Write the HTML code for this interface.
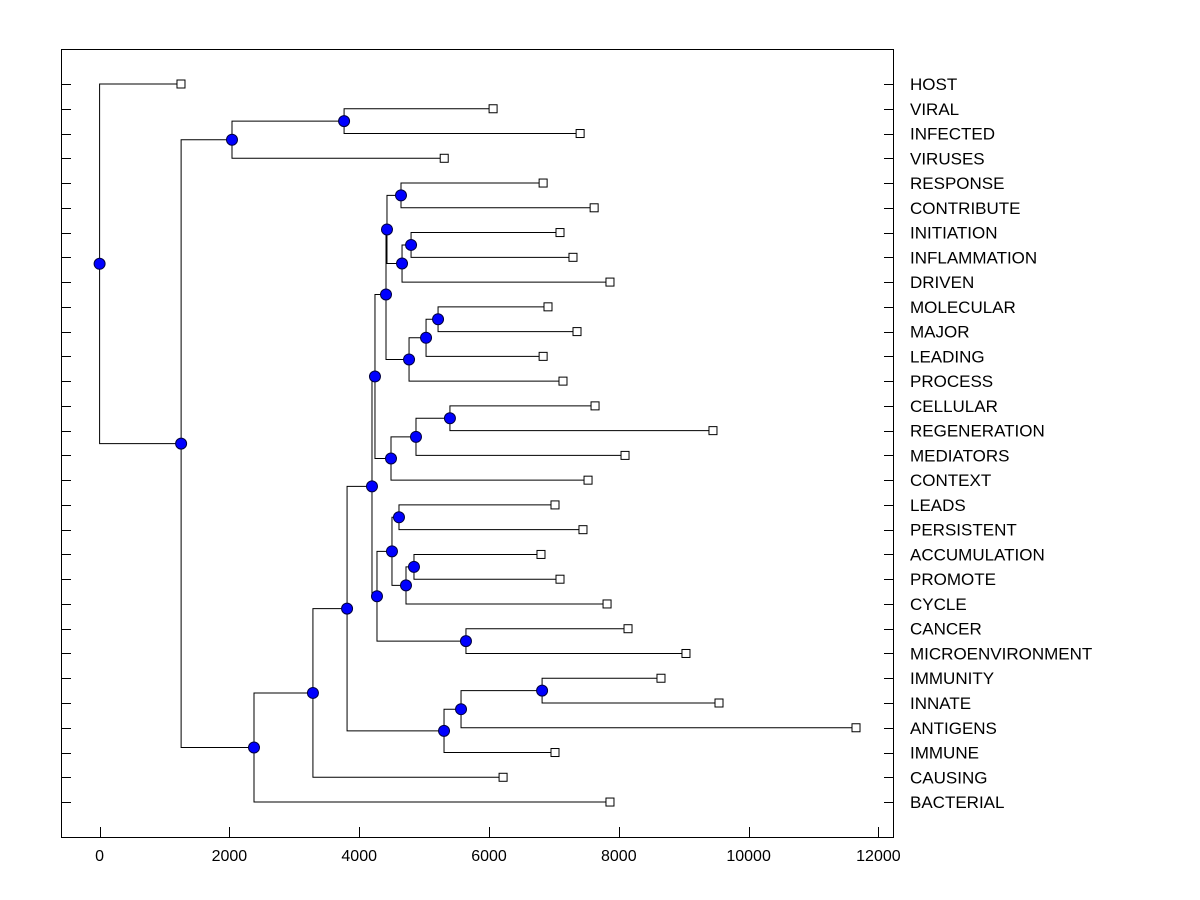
<!DOCTYPE html>
<html><head><meta charset="utf-8"><style>
html,body{margin:0;padding:0;background:#fff;}
svg{display:block;font-family:"Liberation Sans",Arial,sans-serif;}
</style></head><body>
<svg id="chart" width="1200" height="900">
<rect x="61.5" y="49.5" width="832" height="788" fill="#fff" stroke="#000" stroke-width="1"/>
</svg>
<script>
const leafNames = ["HOST","VIRAL","INFECTED","VIRUSES","RESPONSE","CONTRIBUTE","INITIATION","INFLAMMATION","DRIVEN","MOLECULAR","MAJOR","LEADING","PROCESS","CELLULAR","REGENERATION","MEDIATORS","CONTEXT","LEADS","PERSISTENT","ACCUMULATION","PROMOTE","CYCLE","CANCER","MICROENVIRONMENT","IMMUNITY","INNATE","ANTIGENS","IMMUNE","CAUSING","BACTERIAL"];
const leafValues = [1254,6063,7404,5310,6834,7620,7094,7294,7864,6909,7356,6834,7140,7634,9451,8096,7526,7017,7448,6801,7094,7819,8142,9035,8650,9544,11655,7017,6217,7864];
// internal nodes: [id, height, childA, childB]
const nodeIds = ["D","B","O","Q","P","M","S","R","N","K","U","T","L","I","X","Z","Y","V","W","J","G","BB","AA","H","F","E","C","A","ROOT"];
const nodeHeights = [3767,2040,4644,4799,4660,4428,5215,5030,4768,4413,5398,4875,4490,4243,4613,4844,4721,4505,5645,4274,4197,6818,5569,5307,3813,3287,2379,1256,0];
const nodeChildA = ["VIRAL","D","RESPONSE","INITIATION","Q","O","MOLECULAR","S","R","M","CELLULAR","U","T","K","LEADS","ACCUMULATION","Z","X","CANCER","V","I","IMMUNITY","BB","AA","G","F","E","B","HOST"];
const nodeChildB = ["INFECTED","VIRUSES","CONTRIBUTE","INFLAMMATION","DRIVEN","P","MAJOR","LEADING","PROCESS","N","REGENERATION","MEDIATORS","CONTEXT","L","PERSISTENT","PROMOTE","CYCLE","Y","MICROENVIRONMENT","W","J","INNATE","ANTIGENS","IMMUNE","H","CAUSING","BACTERIAL","C","A"];
const xTicks = [0,2000,4000,6000,8000,10000,12000];

const NS="http://www.w3.org/2000/svg";
const svg=document.getElementById('chart');
const xScale=v=>99.6+v*0.0649;
const yScale=i=>84+i*24.76;
function mk(tag,attrs){const e=document.createElementNS(NS,tag);for(const k in attrs)e.setAttribute(k,attrs[k]);svg.appendChild(e);return e;}

const pos={};
leafNames.forEach((n,i)=>{pos[n]={x:xScale(leafValues[i]),y:yScale(i)};});
nodeIds.forEach((id,i)=>{
  const a=pos[nodeChildA[i]],b=pos[nodeChildB[i]];
  pos[id]={x:xScale(nodeHeights[i]),y:(a.y+b.y)/2};
});

leafNames.forEach((n,i)=>{
  const y=Math.round(yScale(i))+0.5;
  let t=mk('line',{x1:61,x2:71,y1:y,y2:y,stroke:'#000'});
  
  
  t=mk('line',{x1:884,x2:894,y1:y,y2:y,stroke:'#000'});
  
  
  const lb=mk('text',{x:910,y:yScale(i)+6,'font-size':17,fill:'#000'});
  lb.textContent=n;
  
  
});
xTicks.forEach(v=>{
  const x=Math.round(xScale(v))+0.5;
  const t=mk('line',{x1:x,x2:x,y1:827,y2:837,stroke:'#000'});
  
  
  const lb=mk('text',{x:xScale(v),y:861,'font-size':16,'text-anchor':'middle',fill:'#000'});
  lb.textContent=v;
  
  
});

nodeIds.forEach((id,i)=>{
  const p=pos[id];
  [nodeChildA[i],nodeChildB[i]].forEach(c=>{
    const q=pos[c];
    const l=mk('path',{d:`M${p.x},${p.y}V${q.y}H${q.x}`,fill:'none',stroke:'#000','stroke-width':1});
    
    
  });
});
leafNames.forEach(n=>{
  const p=pos[n];
  const r=mk('rect',{x:p.x-4,y:p.y-4,width:8,height:8,fill:'#fff',stroke:'#000','stroke-width':1});
  
  
});
nodeIds.forEach(id=>{
  const p=pos[id];
  const c=mk('circle',{cx:p.x,cy:p.y,r:5.5,fill:'#0000ff',stroke:'#000040','stroke-width':1});
  
  
});
</script>
</body></html>
